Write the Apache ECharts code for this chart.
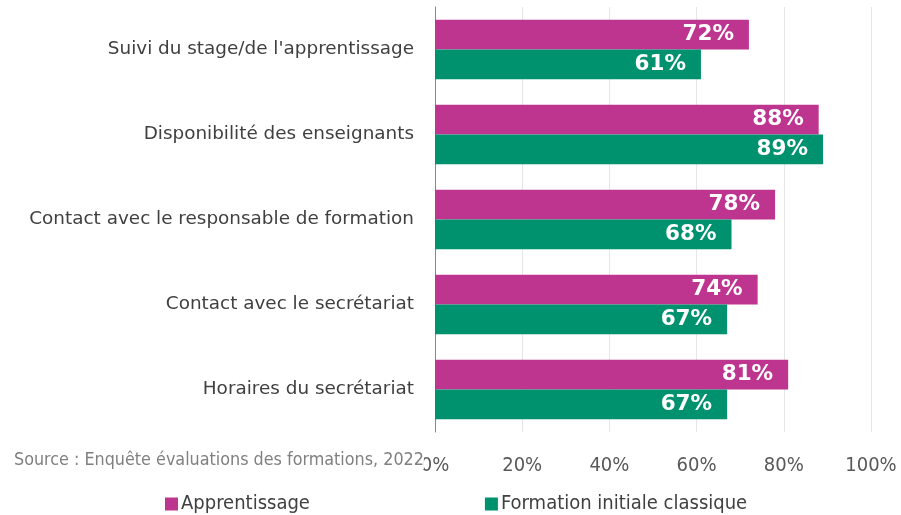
<!DOCTYPE html>
<html><head><meta charset="utf-8">
<script src="https://cdn.jsdelivr.net/npm/echarts@6/dist/echarts.min.js"></script>
<style>html,body{margin:0;padding:0;background:#fff}#c{width:901px;height:515px}</style>
</head><body><div id="c"></div>
<script>
const categories = ["Suivi du stage/de l'apprentissage","Disponibilité des enseignants","Contact avec le responsable de formation","Contact avec le secrétariat","Horaires du secrétariat"];
const apprentissage = [72, 88, 78, 74, 81];
const formationInitiale = [61, 89, 68, 67, 67];
const seriesNames = ["Apprentissage","Formation initiale classique"];
const sourceText = "Source : Enquête évaluations des formations, 2022";

const chart = echarts.init(document.getElementById('c'));
const narrow = "'DejaVu Sans Condensed', sans-serif";
const lbl = {show:true, position:'insideRight', color:'#fff', fontWeight:'bold', fontSize:21.5, fontFamily:'DejaVu Sans', formatter:'{c}%', distance:15};
chart.setOption({
  animation:false,
  grid:{left:435, right:30, top:7, bottom:83},
  legend:{bottom:-4, left:160, itemGap:175, itemWidth:13, itemHeight:13, icon:'rect',
    textStyle:{fontFamily:narrow, fontSize:20, color:'#404040', padding:[0,0,0,-2]}, data:seriesNames, itemStyle:{borderWidth:0}},
  xAxis:{type:'value', min:0, max:100, interval:20,
    axisLabel:{formatter:'{value}%', fontFamily:narrow, fontSize:20, color:'#595959', margin:24},
    splitLine:{lineStyle:{color:'#e6e6e6'}}, axisLine:{show:false}, axisTick:{show:false}},
  yAxis:{type:'category', inverse:true, data:categories,
    axisLine:{lineStyle:{color:'#888'}}, axisTick:{show:false},
    axisLabel:{fontFamily:'DejaVu Sans', fontSize:18.4, color:'#404040', margin:21}},
  series:[
    {name:seriesNames[0], type:'bar', data:apprentissage, barGap:'0%', barCategoryGap:'30%', itemStyle:{color:'#BE3590'}, label:lbl},
    {name:seriesNames[1], type:'bar', data:formationInitiale, itemStyle:{color:'#00916E'}, label:lbl}
  ],
  graphic:[{type:'text', left:14, top:451, z:100, style:{text:sourceText, fontFamily:narrow, fontSize:17.8, fill:'#808080', backgroundColor:'#fff'}}]
});
</script></body></html>
